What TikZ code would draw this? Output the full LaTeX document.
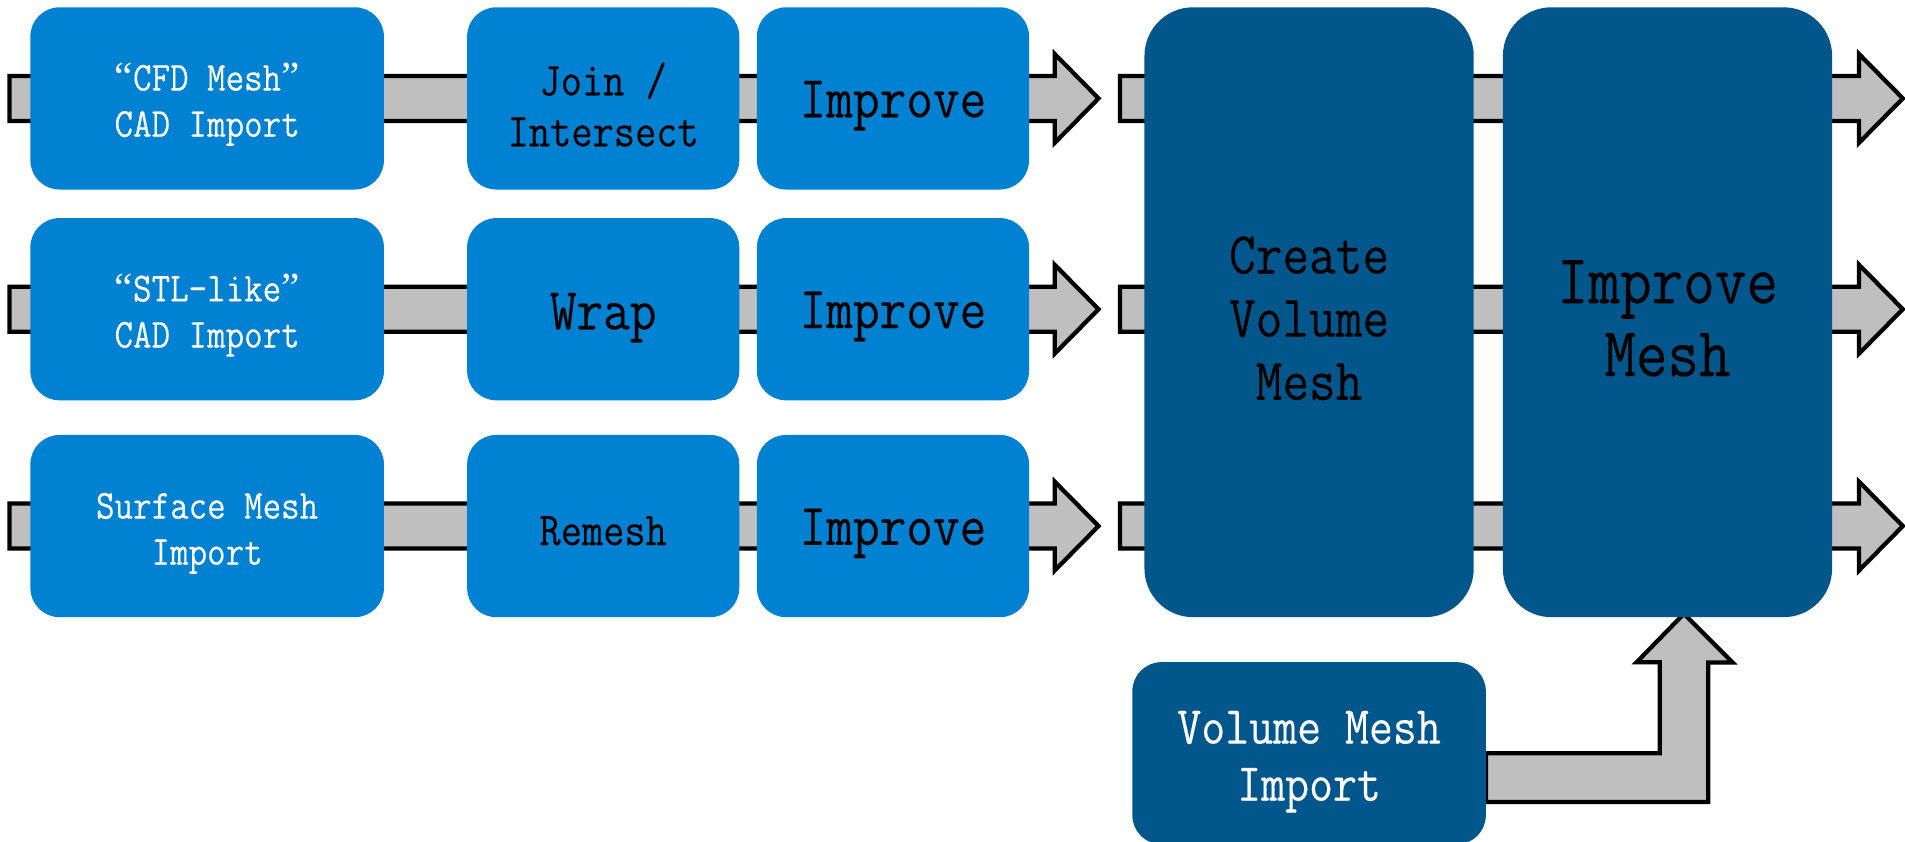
\documentclass[tikz,border=0pt]{standalone}
\usepackage{fontspec}
\setmainfont{Latin Modern Mono}[FakeStretch=0.87,FakeBold=0.2]
\newfontfamily\quotefont{Liberation Serif}
\usetikzlibrary{backgrounds,calc}

\definecolor{meshblue}{RGB}{0,129,209}
\definecolor{meshdark}{RGB}{1,87,140}
\definecolor{arrowgray}{RGB}{191,191,191}

\newcommand{\boxfont}[2]{\fontsize{#1}{#2}\selectfont}
\newcommand{\qopen}{{\quotefont “}}
\newcommand{\qclose}{{\quotefont ”}}
% block arrow along a row: start point, tip point
\newcommand{\rowarrow}[2]{%
  \draw[blockarrow] let \p1=(#1), \p2=(#2) in
    (\x1,\y1+18.5pt) -- (\x2-36pt,\y1+18.5pt) -- (\x2-36pt,\y1+36.5pt) -- (\x2,\y1)
    -- (\x2-36pt,\y1-36.5pt) -- (\x2-36pt,\y1-18.5pt) -- (\x1,\y1-18.5pt) -- cycle;}

\begin{document}
\begin{tikzpicture}[x=1pt,y=-1pt,
    stagebox/.style={fill=meshblue, rounded corners=24pt, minimum width=291pt,
      minimum height=150pt, inner sep=0pt},
    toolbox/.style={stagebox, minimum width=224pt},
    bigbox/.style={fill=meshdark, rounded corners=40pt, minimum width=271pt,
      minimum height=502pt, inner sep=0pt},
    importbox/.style={stagebox, fill=meshdark},
    boxtext/.style={align=center, inner sep=0pt},
    blockarrow/.style={fill=arrowgray, draw=black, line width=3.5pt, line join=miter}]
    \useasboundingbox (0,0) rectangle (1568,693);

    % import boxes
    \node[stagebox] (cfd) at (170.5,81) {};
    \node[stagebox] (stl) at (170.5,254.5) {};
    \node[stagebox] (surf) at (170.5,433) {};
    \node[boxtext, text=white, font=\boxfont{34}{38}] (cfdtext) at ($(cfd)+(0,5)$) {\qopen CFD Mesh\qclose\\CAD Import};
    \node[boxtext, text=white, font=\boxfont{34}{38}] (stltext) at ($(stl)+(0,5)$) {\qopen STL-like\qclose\\CAD Import};
    \node[boxtext, text=white, font=\boxfont{34}{38}] (surftext) at ($(surf)+(0,6)$) {Surface Mesh\\Import};

    % surface tools
    \node[toolbox] (join) at (496.5,81) {};
    \node[toolbox] (wrap) at (496.5,254.5) {};
    \node[toolbox] (remesh) at (496.5,433) {};
    \node[boxtext, font=\boxfont{39}{42}] (jointext) at ($(join)+(0,5)$) {Join /\\Intersect};
    \node[boxtext, font=\boxfont{49}{52}] (wraptext) at ($(wrap)+(0,7)$) {Wrap};
    \node[boxtext, font=\boxfont{39}{42}] (remeshtext) at ($(remesh)+(0,4)$) {Remesh};

    % improve
    \node[toolbox] (imp1) at (735,81) {};
    \node[toolbox] (imp2) at (735,254.5) {};
    \node[toolbox] (imp3) at (735,433) {};
    \node[boxtext, font=\boxfont{49}{52}] (imp1text) at ($(imp1)+(0,6)$) {Improve};
    \node[boxtext, font=\boxfont{49}{52}] (imp2text) at ($(imp2)+(0,6)$) {Improve};
    \node[boxtext, font=\boxfont{49}{52}] (imp3text) at ($(imp3)+(0,6)$) {Improve};

    % volume mesh
    \node[bigbox] (create) at (1077.5,257) {};
    \node[bigbox] (better) at (1372.5,257) {};
    \node[importbox] (vol) at (1077.5,620) {};
    \node[boxtext, font=\boxfont{49}{52}] (createtext) at ($(create)+(0,5)$) {Create\\Volume\\Mesh};
    \node[boxtext, font=\boxfont{58}{60}] (bettertext) at ($(better)+(0,5)$) {Improve\\Mesh};
    \node[boxtext, text=white, font=\boxfont{44}{47}] (voltext) at ($(vol)+(0,7)$) {Volume Mesh\\Import};

    \begin{pgfonlayer}{background}
        % rows
        \rowarrow{$(cfd.west)+(-17,0)$}{$(imp1.east)+(57,0)$}
        \rowarrow{$(stl.west)+(-17,0)$}{$(imp2.east)+(57,0)$}
        \rowarrow{$(surf.west)+(-17,0)$}{$(imp3.east)+(57,0)$}
        \rowarrow{$(create.west |- imp1.east)+(-20,0)$}{$(better.east |- imp1.east)+(58,0)$}
        \rowarrow{$(create.west |- imp2.east)+(-20,0)$}{$(better.east |- imp2.east)+(58,0)$}
        \rowarrow{$(create.west |- imp3.east)+(-20,0)$}{$(better.east |- imp3.east)+(58,0)$}

        % volume mesh import
        \coordinate (tip) at ($(better.south)+(13.5,-3)$);
        \draw[blockarrow] (vol.east) -- ++(143,0) -- ++(0,-75) -- ++(-19,0) -- (tip)
            -- ++(40,40) -- ++(-20,0) -- ++(0,115) -- ++(-183,0) -- cycle;
    \end{pgfonlayer}
\end{tikzpicture}
\end{document}
